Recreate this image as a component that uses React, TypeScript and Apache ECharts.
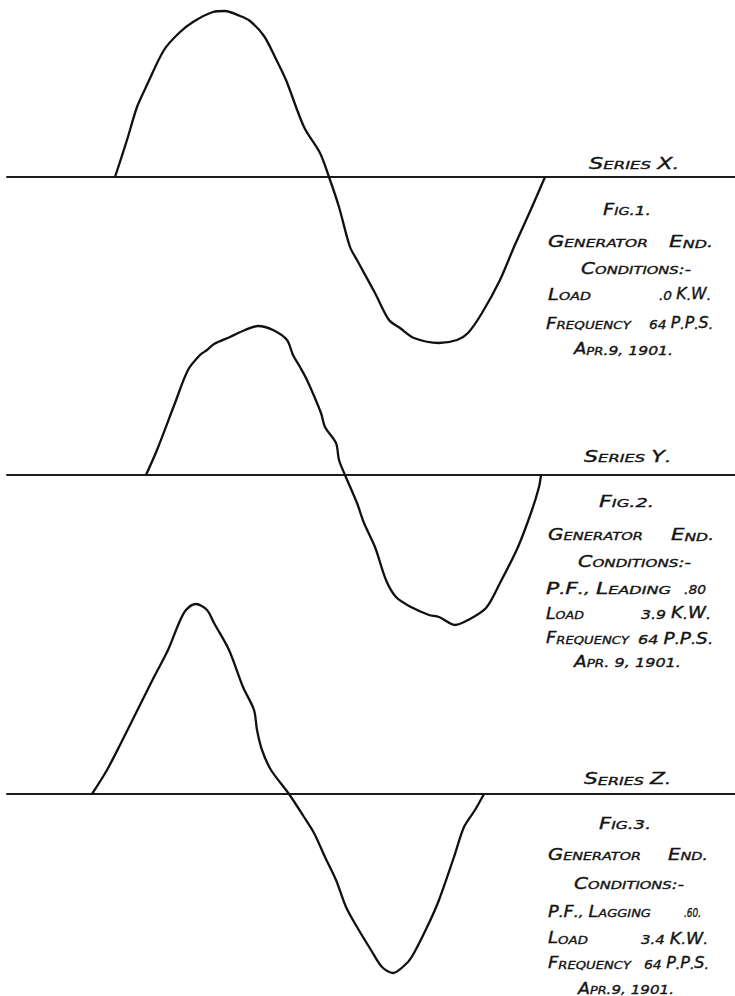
import React, { useEffect, useRef } from "react";
import * as echarts from "echarts";

// ---- Data: position along the record (time units) and ordinate above (+) / below (-) the zero line ----
// Series X (Fig. 1) — load .0 K.W.
const timeX = [108, 120, 130, 139, 157, 172, 186, 206, 218, 233, 243, 257, 268, 279, 297, 313, 322, 332, 343, 350, 368, 382, 393, 407, 432, 450, 461, 475, 493, 507, 525, 538];
const valueX = [0, 37, 70, 90, 127, 144, 155, 165, 166, 161, 156, 141, 120, 97, 50, 24, 0, -30, -70, -83, -116, -143, -151, -161, -166, -163, -156, -136, -103, -70, -30, 0];

// Series Y (Fig. 2) — P.F. leading .80, load 3.9 K.W.
const timeY = [139, 150, 168, 181, 193, 200, 207, 223, 238, 251, 266, 280, 286, 293, 300, 314, 318, 329, 332, 338, 350, 357, 368, 379, 389, 404, 422, 432, 448, 461, 479, 493, 511, 525, 532, 534];
const valueY = [0, 25, 72, 105, 120, 125, 131, 138, 145, 149, 145, 135, 120, 108, 95, 62, 48, 32, 15, 0, -28, -48, -72, -105, -122, -132, -140, -142, -150, -145, -133, -108, -72, -35, -12, 0];

// Series Z (Fig. 3) — P.F. lagging .60, load 3.4 K.W.
const timeZ = [85, 100, 114, 129, 147, 161, 172, 179, 189, 200, 207, 222, 236, 247, 250, 255, 264, 282, 297, 307, 318, 329, 339, 350, 364, 375, 386, 400, 407, 422, 432, 447, 457, 468, 477];
const valueZ = [0, 24, 51, 81, 117, 144, 171, 184, 190, 184, 171, 144, 107, 84, 64, 44, 24, 0, -23, -39, -63, -86, -113, -133, -156, -173, -179, -169, -159, -129, -106, -63, -33, -16, 0];

// ---- Annotation texts ----
const notesFig1 = ["SERIES X.", "FIG.1.", "GENERATOR", "END.", "CONDITIONS:-", "LOAD", ".0 K.W.", "FREQUENCY", "64 P.P.S.", "APR.9, 1901."];
const notesFig2 = ["SERIES Y.", "FIG.2.", "GENERATOR", "END.", "CONDITIONS:-", "P.F., LEADING", ".80", "LOAD", "3.9 K.W.", "FREQUENCY", "64 P.P.S.", "APR. 9, 1901."];
const notesFig3 = ["SERIES Z.", "FIG.3.", "GENERATOR", "END.", "CONDITIONS:-", "P.F., LAGGING", ".60.", "LOAD", "3.4 K.W.", "FREQUENCY", "64 P.P.S.", "APR.9, 1901."];

// ---- Layout (left, right, vertical middle) for each annotation ----
const layout1 = [[588, 678, 162], [602, 650, 208], [547, 647, 240], [668, 712, 240], [580, 690, 267], [547, 590, 293], [658, 710, 293], [545, 630, 322], [648, 712, 322], [573, 672, 348]];
const layout2 = [[583, 670, 455], [598, 653, 500], [547, 642, 533], [670, 713, 533], [577, 690, 560], [545, 670, 587], [683, 705, 587], [545, 583, 612], [640, 710, 612], [545, 628, 637], [637, 712, 637], [573, 680, 660]];
const layout3 = [[583, 670, 777], [598, 650, 822], [547, 640, 853], [667, 707, 853], [573, 683, 882], [547, 650, 910], [683, 700, 910], [547, 587, 937], [640, 707, 937], [547, 630, 962], [643, 708, 962], [577, 673, 987]];

const FONT = '"DejaVu Sans", sans-serif';
const SIZES: Record<string, number> = { a: 15, b: 11, n: 13 };
const INK = "#141414";
const WEIGHT = "normal";

function fontOf(size: number) {
  return `italic ${WEIGHT} ${size}px ${FONT}`;
}

function segments(s: string): [string, string][] {
  const out: [string, string][] = [];
  let prevLetter = false;
  for (const ch of s) {
    let cls: string;
    if (/[A-Za-z]/.test(ch)) {
      cls = prevLetter ? "b" : "a";
      prevLetter = true;
    } else {
      cls = "n";
      prevLetter = false;
    }
    if (out.length && out[out.length - 1][0] === cls) out[out.length - 1][1] += ch;
    else out.push([cls, ch]);
  }
  return out;
}

function richStyle(size: number) {
  return {
    font: fontOf(size),
    fontSize: size,
    fontStyle: "italic",
    fontWeight: WEIGHT,
    fontFamily: FONT,
    fill: INK,
    lineHeight: 18,
    verticalAlign: "bottom",
  };
}

function buildTexts(notes: string[], layout: number[][], ctx: CanvasRenderingContext2D | null) {
  return notes.map((t, i) => {
    const [l, r, y] = layout[i];
    const segs = segments(t);
    let w = 0;
    segs.forEach(([cls, txt]) => {
      if (ctx) {
        ctx.font = fontOf(SIZES[cls]);
        w += ctx.measureText(txt).width;
      } else {
        w += txt.length * SIZES[cls] * 0.7;
      }
    });
    const scaleX = w > 0 ? (r - l) / w : 1;
    return {
      type: "text",
      x: l + 1,
      y,
      scaleX,
      silent: true,
      style: {
        text: segs.map(([cls, txt]) => `{${cls}|${txt}}`).join(""),
        fill: INK,
        font: fontOf(11),
        fontFamily: FONT,
        fontStyle: "italic",
        fontWeight: WEIGHT,
        fontSize: 11,
        stroke: INK,
        lineWidth: 0.35,
        align: "left",
        verticalAlign: "middle",
        rich: {
          a: richStyle(SIZES.a),
          b: richStyle(SIZES.b),
          n: richStyle(SIZES.n),
        },
      },
    };
  });
}

export default function App() {
  const ref = useRef<HTMLDivElement>(null);

  useEffect(() => {
    document.body.style.margin = "0";
    document.body.style.background = "#ffffff";
    if (!ref.current) return;
    const chart = echarts.init(ref.current, null, { renderer: "svg" });

    const canvas = document.createElement("canvas");
    const ctx = canvas.getContext("2d");

    const grids = [
      { left: 7, right: 0, top: 0, height: 360 },
      { left: 7, right: 0, top: 320, height: 320 },
      { left: 7, right: 0, top: 590, height: 400 },
    ];
    const yRanges = [
      [-183, 177],
      [-165, 155],
      [-196, 204],
    ];
    const seriesData = [
      timeX.map((t, i) => [t, valueX[i]]),
      timeY.map((t, i) => [t, valueY[i]]),
      timeZ.map((t, i) => [t, valueZ[i]]),
    ];

    const option: any = {
      animation: false,
      backgroundColor: "#ffffff",
      grid: grids,
      xAxis: grids.map((_, i) => ({
        type: "value",
        gridIndex: i,
        min: 0,
        max: 728,
        axisLine: { show: true, onZero: true, lineStyle: { color: "#1c1c1c", width: 2 } },
        axisTick: { show: false },
        axisLabel: { show: false },
        splitLine: { show: false },
      })),
      yAxis: grids.map((_, i) => ({
        type: "value",
        gridIndex: i,
        min: yRanges[i][0],
        max: yRanges[i][1],
        axisLine: { show: false },
        axisTick: { show: false },
        axisLabel: { show: false },
        splitLine: { show: false },
      })),
      series: seriesData.map((d, i) => ({
        type: "line",
        name: ["Series X", "Series Y", "Series Z"][i],
        xAxisIndex: i,
        yAxisIndex: i,
        data: d,
        showSymbol: false,
        smooth: 0.3,
        lineStyle: { color: "#111111", width: 2.3 },
        silent: true,
      })),
      graphic: [
        ...buildTexts(notesFig1, layout1, ctx),
        ...buildTexts(notesFig2, layout2, ctx),
        ...buildTexts(notesFig3, layout3, ctx),
      ],
    };

    chart.setOption(option);
    return () => chart.dispose();
  }, []);

  return <div ref={ref} style={{ width: 735, height: 996 }} />;
}
